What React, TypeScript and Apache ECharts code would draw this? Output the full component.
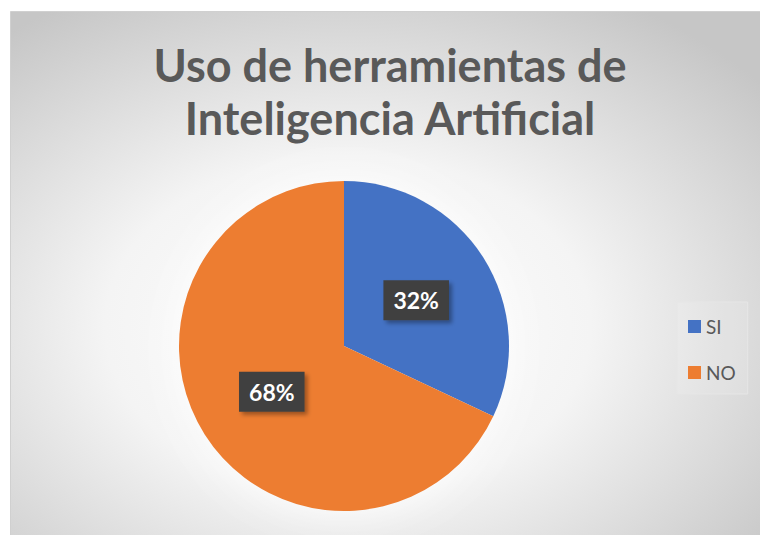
import React, { useEffect, useRef } from "react";
import * as echarts from "echarts";

const titleLines = ["Uso de herramientas de", "Inteligencia Artificial"];
const categories = ["SI", "NO"];
const values = [32, 68];
const colors = ["#4472C4", "#ED7D31"];

const CX = 344;
const CY = 346;
const R = 165;

export default function App() {
  const ref = useRef<HTMLDivElement>(null);
  useEffect(() => {
    document.body.style.margin = "0";
    const chart = echarts.init(ref.current!, null, { renderer: "svg" });
    chart.setOption({
      animation: false,
      backgroundColor: "#ffffff",
      graphic: [
        {
          type: "rect",
          z: -10,
          silent: true,
          shape: { x: 10.5, y: 11.5, width: 750, height: 524 },
          style: {
            fill: new echarts.graphic.RadialGradient(0.45, 0.6, 0.72, [
              { offset: 0, color: "#ffffff" },
              { offset: 0.45, color: "#f4f4f4" },
              { offset: 1, color: "#c6c6c6" },
            ]),
            stroke: "#d0d0d0",
            lineWidth: 1,
          },
        },
        {
          type: "circle",
          z: -5,
          silent: true,
          shape: { cx: CX, cy: CY, r: R - 2 },
          style: {
            fill: "#ffffff",
            shadowColor: "rgba(255,255,255,1)",
            shadowBlur: 45,
          },
        },
      ],
      title: {
        text: titleLines.join("\n"),
        left: 385,
        top: 33,
        textAlign: "center",
        textStyle: {
          fontFamily: "Lato",
          fontWeight: "bold",
          fontSize: 45,
          lineHeight: 53,
          color: "#595959",
        },
      },
      legend: {
        orient: "vertical",
        left: 677,
        top: 302,
        padding: [15, 12, 12, 11],
        itemWidth: 13,
        itemHeight: 13,
        itemGap: 27,
        icon: "rect",
        backgroundColor: "rgba(255,255,255,0.12)",
        borderColor: "#e6e6e6",
        borderWidth: 1,
        textStyle: { fontFamily: "Lato", fontSize: 19, color: "#595959", width: 34 },
        data: categories,
      },
      series: [
        {
          type: "pie",
          center: [CX, CY],
          radius: R,
          startAngle: 90,
          clockwise: true,
          color: colors,
          label: {
            show: true,
            position: "inside",
            formatter: "{d}%",
            fontFamily: "Lato",
            fontWeight: "bold",
            fontSize: 23,
            color: "#ffffff",
            backgroundColor: "#404040",
            padding: [9, 10, 8, 10],
            shadowColor: "rgba(0,0,0,0.35)",
            shadowOffsetX: 3,
            shadowOffsetY: 3,
            shadowBlur: 4,
          },
          labelLine: { show: false },
          emphasis: { disabled: true },
          data: categories.map((c, i) => ({ name: c, value: values[i] })),
        },
      ],
    });
    return () => chart.dispose();
  }, []);
  return <div ref={ref} style={{ width: 760, height: 535 }} />;
}
